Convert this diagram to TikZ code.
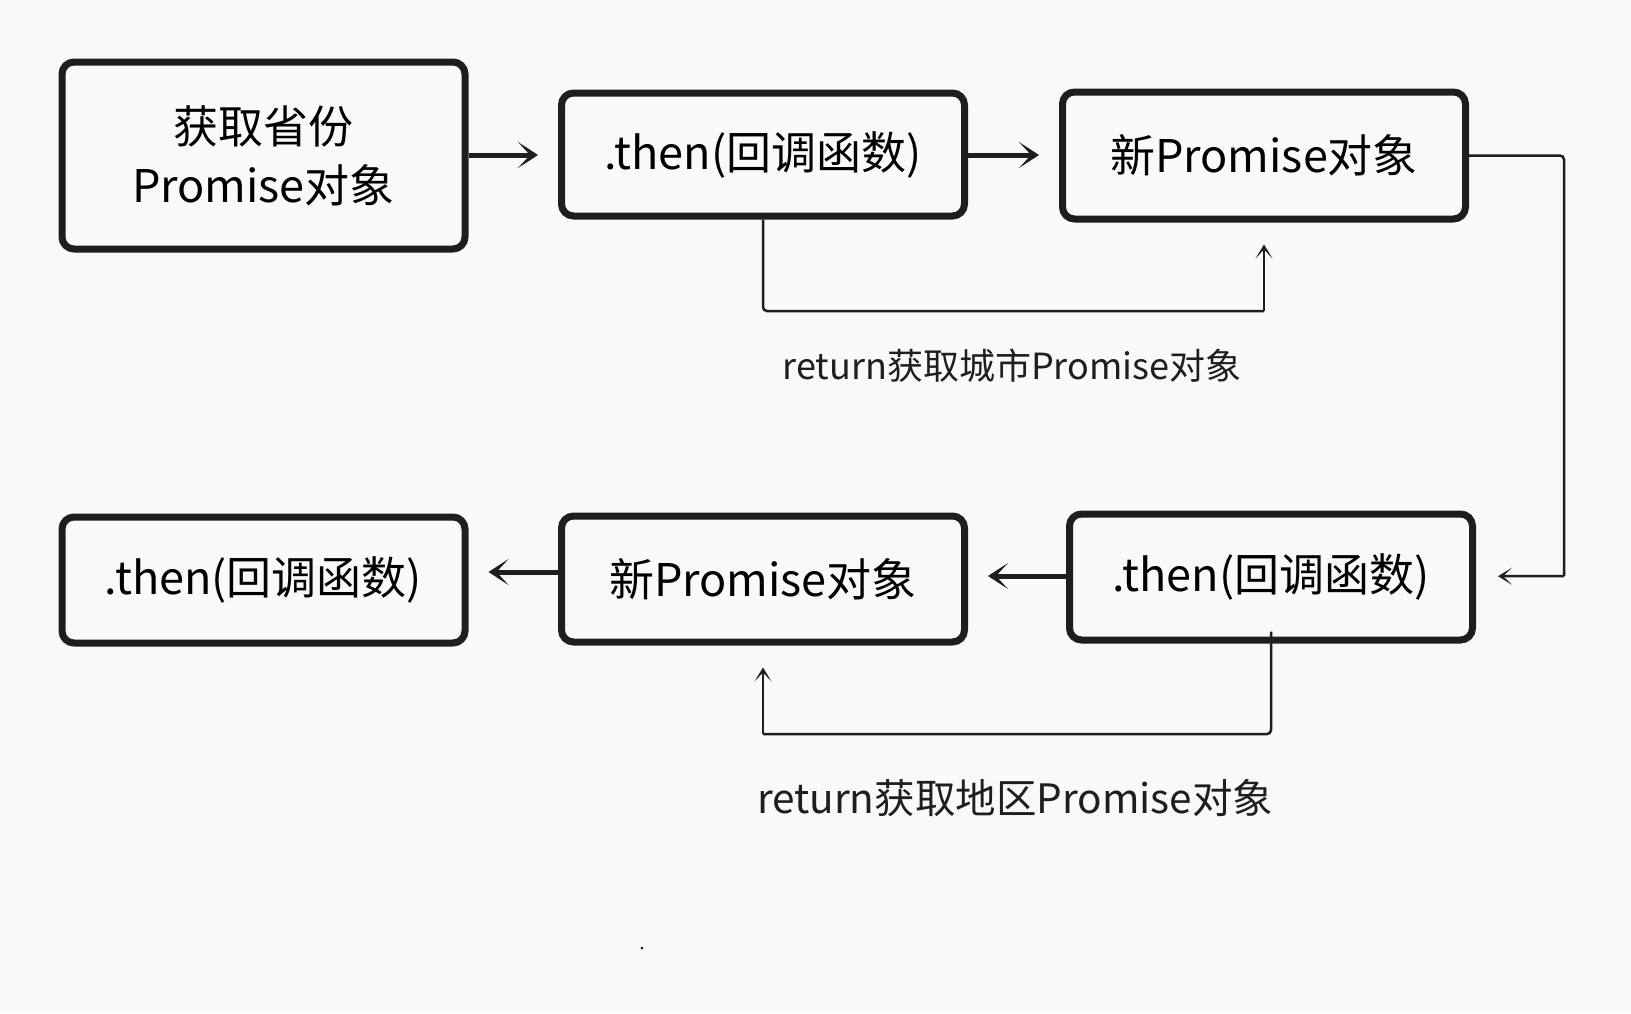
\documentclass[tikz,border=0pt]{standalone}
\usepackage{fontspec}
\setmainfont{Noto Sans CJK SC}
\usepackage{tikz}
\usetikzlibrary{arrows.meta, positioning}
\definecolor{paper}{RGB}{248,249,250}
\definecolor{ink}{RGB}{30,30,30}

\begin{document}
\begin{tikzpicture}[
	x = 1pt, y = 1pt,
	box/.style = {draw=ink, line width=7pt, rounded corners=12pt, fill=paper,
		minimum width=403pt, align=center, font=\fontsize{45}{59}\selectfont},
	bigarrow/.style = {draw=ink, line width=5pt, shorten >=20pt,
		-{Stealth[length=20pt,width=26pt,inset=12pt]}},
	link/.style = {draw=ink, line width=2.5pt, rounded corners=4pt},
	uparrow/.style = {link, shorten >=22pt, -{Stealth[length=14pt,width=17pt,inset=9pt]}},
	note/.style = {text=ink}
	]
	\fill[paper] (0,0) rectangle (1631,-1013);
	\useasboundingbox (0,0) rectangle (1631,-1013);
	% first row
	\node[box, minimum height=187pt] (prov)  at (263.5,-155.5) {获取省份\\Promise对象};
	\node[box, minimum height=123pt] (then1) at (763,-154.5)   {.then(回调函数)};
	\node[box, minimum height=127pt] (new1)  at (1264,-155.5)  {新Promise对象};
	% second row
	\node[box, minimum height=126pt] (then3) at (263.5,-580)   {.then(回调函数)};
	\node[box, minimum height=126pt] (new2)  at (763,-579)     {新Promise对象};
	\node[box, minimum height=126pt] (then2) at (1271,-577)    {.then(回调函数)};
	% labels
	\node[note, font=\fontsize{36}{40}\selectfont] (ret1) at (1012,-366) {return获取城市Promise对象};
	\node[note, font=\fontsize{40.5}{45}\selectfont] (ret2) at (1015,-798) {return获取地区Promise对象};
	\coordinate (c1) at (1264,-311);
	\coordinate (c2) at (763,-734);
	\coordinate (r1) at (1564,-576);
	% main chain
	\draw[bigarrow] (prov.east |- 0,-155)  -- (then1.west |- 0,-155);
	\draw[bigarrow] (then1.east |- 0,-155) -- (new1.west |- 0,-155);
	\draw[bigarrow] (then2.west |- 0,-576) -- (new2.east |- 0,-576);
	\draw[bigarrow] (new2.west |- 0,-572)  -- (then3.east |- 0,-572);
	% returned promises
	\draw[link] (then1.south) |- (c1);
	\draw[uparrow] (c1) -- (new1);
	\draw[link] (new1.east) -| (r1);
	\draw[uparrow] (r1) -- (then2);
	\draw[link] ([yshift=12pt]then2.south) |- (c2);
	\draw[uparrow] (c2) -- (new2);
	\fill[ink] (642,-948) circle (1.5pt);
\end{tikzpicture}
\end{document}
